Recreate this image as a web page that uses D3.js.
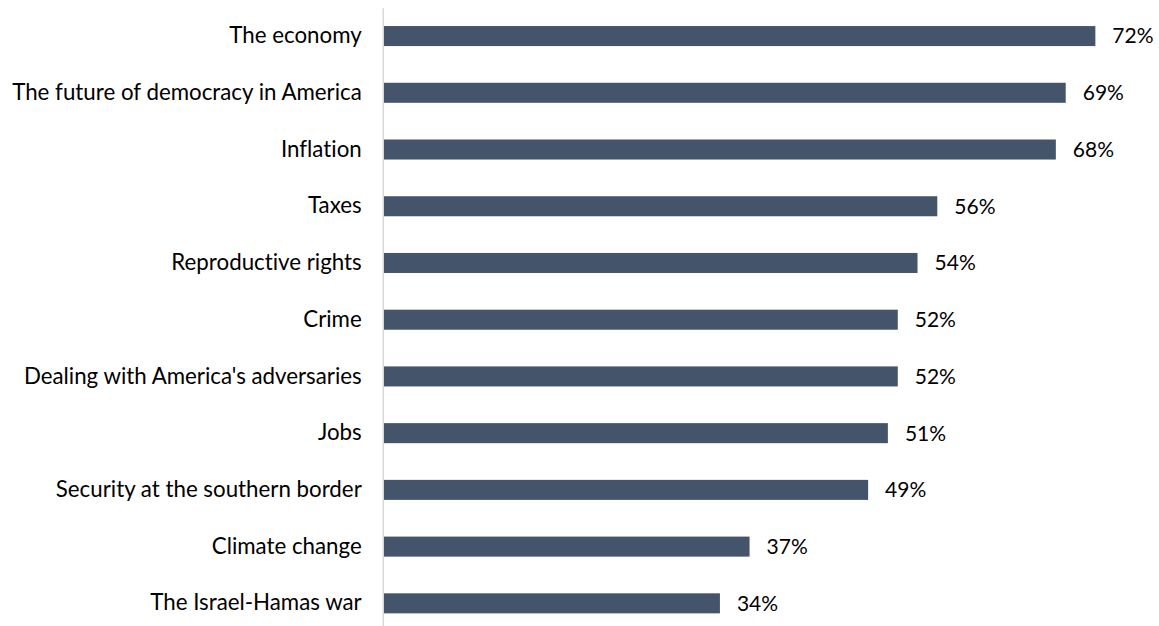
<!DOCTYPE html>
<html>
<head>
<meta charset="utf-8">
<script src="https://cdn.jsdelivr.net/npm/d3@7"></script>
<style>
  html, body { margin: 0; padding: 0; background: #ffffff; }
  svg { display: block; }
  text { font-family: Lato, "Open Sans", sans-serif; fill: #000000; font-variant-ligatures: none; }
</style>
</head>
<body>
<svg id="chart" width="1159" height="626"></svg>
<script>
// Share of respondents rating each issue as important (percent)
const categories = [
  "The economy",
  "The future of democracy in America",
  "Inflation",
  "Taxes",
  "Reproductive rights",
  "Crime",
  "Dealing with America's adversaries",
  "Jobs",
  "Security at the southern border",
  "Climate change",
  "The Israel-Hamas war"
];
const values = [72, 69, 68, 56, 54, 52, 52, 51, 49, 37, 34];
const valueLabels = ["72%", "69%", "68%", "56%", "54%", "52%", "52%", "51%", "49%", "37%", "34%"];

const data = categories.map((c, i) => ({ category: c, value: values[i], label: valueLabels[i] }));

const svg = d3.select("#chart");

const x = d3.scaleLinear().domain([0, 100]).range([384, 1372]);
const y = d3.scaleBand()
  .domain(categories)
  .range([7.7, 631.7])
  .paddingInner(0.647)
  .paddingOuter(0.3235);

// Bars
svg.append("g")
  .selectAll("rect")
  .data(data)
  .join("rect")
  .attr("x", x(0))
  .attr("y", d => y(d.category))
  .attr("width", d => x(d.value) - x(0))
  .attr("height", y.bandwidth())
  .attr("fill", "#44546a");

// Vertical category axis: light rule plus right-aligned category names
const yAxis = d3.axisLeft(y).tickSize(0).tickPadding(21);
const gAxis = svg.append("g")
  .attr("transform", "translate(382.75,0)")
  .call(yAxis);
gAxis.select(".domain")
  .attr("stroke", "#d9d9d9")
  .attr("stroke-width", 1.5);
gAxis.selectAll(".tick text")
  .attr("font-size", 22.3)
  .attr("font-family", "Lato, 'Open Sans', sans-serif")
  .attr("fill", "#000000");

// Value labels at the end of each bar
svg.append("g")
  .selectAll("text")
  .data(data)
  .join("text")
  .attr("x", d => x(d.value) + 17)
  .attr("y", d => y(d.category) + y.bandwidth() / 2)
  .attr("dy", "0.35em")
  .attr("font-size", 21)
  .text(d => d.label);
</script>
</body>
</html>
